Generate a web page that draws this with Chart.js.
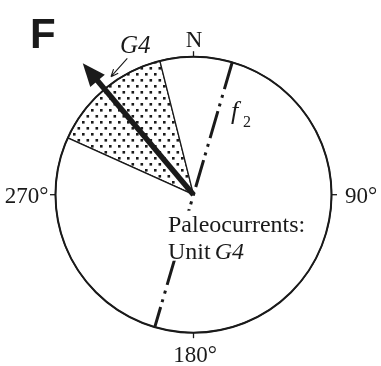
<!DOCTYPE html>
<html>
<head>
<meta charset="utf-8">
<script src="https://cdn.jsdelivr.net/npm/chart.js@4.4.1/dist/chart.umd.min.js"></script>
<style>
  html, body { margin: 0; padding: 0; background: #fff; }
  #wrap { position: relative; width: 381px; height: 366px; }
</style>
</head>
<body>
<div id="wrap"><canvas id="rose" width="381" height="366"></canvas></div>
<script>
// Compass labels around the rose (azimuth in degrees, clockwise from north)
const compassLabels = ['N', '90°', '180°', '270°'];
const compassAzimuths = [0, 90, 180, 270];
// Spread of paleocurrent directions measured in unit G4
const currentRange = [294.3, 345.9];
// Mean paleocurrent vector: azimuth and length relative to the circle radius
const meanAzimuth = 319.9;
const meanLength = 1.246;
// Strike of fault f2
const faultAzimuth = 16.3;

const INK = '#1a1a1a';
const SERIF = '"Liberation Serif", "DejaVu Serif", serif';

// Dotted fill for the paleocurrent sector
function makeStipple() {
  const c = document.createElement('canvas');
  c.width = 9; c.height = 12;
  const g = c.getContext('2d');
  g.fillStyle = '#fff';
  g.fillRect(0, 0, 9, 12);
  g.fillStyle = INK;
  g.fillRect(1, 1, 2.6, 2.6);
  g.fillRect(5.5, 7, 2.6, 2.6);
  return g.createPattern(c, 'repeat');
}

const sectorWidth = currentRange[1] - currentRange[0];

// Circle outline, compass ticks, fault trace, mean vector and annotations
const roseOverlay = {
  id: 'roseOverlay',
  afterDatasetsDraw(chart) {
    const ctx = chart.ctx;
    const arc = chart.getDatasetMeta(0).data[0];
    const cx = arc.x, cy = arc.y, R = arc.outerRadius;
    const rad = a => a * Math.PI / 180;
    const pt = (az, r) => [cx + r * Math.sin(rad(az)), cy - r * Math.cos(rad(az))];

    ctx.save();
    ctx.strokeStyle = INK;
    ctx.fillStyle = INK;

    // outer circle
    ctx.lineWidth = 2;
    ctx.beginPath();
    ctx.arc(cx, cy, R, 0, Math.PI * 2);
    ctx.stroke();

    // compass ticks
    ctx.lineWidth = 1.3;
    compassAzimuths.forEach(az => {
      const [ax, ay] = pt(az, R);
      const [bx, by] = pt(az, R + 5.5);
      ctx.beginPath();
      ctx.moveTo(ax, ay);
      ctx.lineTo(bx, by);
      ctx.stroke();
    });

    // compass labels
    ctx.font = '23px ' + SERIF;
    ctx.textBaseline = 'alphabetic';
    const labelPos = [
      { x: cx + 0.5, y: cy - R - 9.7, align: 'center' },
      { x: cx + R + 13.5, y: cy + 8.5, align: 'left' },
      { x: cx + 1.5, y: cy + R + 29.3, align: 'center' },
      { x: cx - R - 7, y: cy + 8.5, align: 'right' }
    ];
    compassLabels.forEach((t, i) => {
      ctx.textAlign = labelPos[i].align;
      ctx.fillText(t, labelPos[i].x, labelPos[i].y);
    });

    // fault f2 (dash-dot-dot trace through the centre)
    const [fx1, fy1] = pt(faultAzimuth, R);
    const [fx2, fy2] = pt(faultAzimuth + 180, R);
    ctx.lineWidth = 3;
    ctx.lineCap = 'butt';
    ctx.setLineDash([28, 6, 3, 6, 3, 5]);
    ctx.beginPath();
    ctx.moveTo(fx1, fy1);
    ctx.lineTo(fx2, fy2);
    ctx.stroke();
    ctx.setLineDash([]);

    // f2 label
    ctx.textAlign = 'left';
    ctx.font = 'italic 26px ' + SERIF;
    ctx.fillText('f', cx + 37.5, cy - 75.5);
    ctx.font = '16px ' + SERIF;
    ctx.fillText('2', cx + 49.5, cy - 67.5);

    // mean paleocurrent arrow
    const headLen = 23, headHalf = 9.5;
    const tipR = meanLength * R;
    const [tx, ty] = pt(meanAzimuth, tipR);
    const [bx, by] = pt(meanAzimuth, tipR - headLen);
    const [sx, sy] = pt(meanAzimuth, tipR - headLen + 2);
    const px = Math.cos(rad(meanAzimuth)), py = Math.sin(rad(meanAzimuth));
    ctx.lineWidth = 5.5;
    ctx.beginPath();
    ctx.moveTo(cx, cy);
    ctx.lineTo(sx, sy);
    ctx.stroke();
    ctx.beginPath();
    ctx.moveTo(tx, ty);
    ctx.lineTo(bx + px * headHalf, by + py * headHalf);
    ctx.lineTo(bx - px * headHalf, by - py * headHalf);
    ctx.closePath();
    ctx.fill();

    // G4 label with leader arrow
    ctx.font = 'italic 25px ' + SERIF;
    ctx.fillText('G4', cx - 73.5, cy - 141.5);
    const l0 = [cx - 66.2, cy - 136.4], l1 = [cx - 82.5, cy - 118];
    ctx.lineWidth = 1.1;
    ctx.beginPath();
    ctx.moveTo(l0[0], l0[1]);
    ctx.lineTo(l1[0], l1[1]);
    const ang = Math.atan2(l1[1] - l0[1], l1[0] - l0[0]);
    [0.4, -0.4].forEach(d => {
      ctx.moveTo(l1[0], l1[1]);
      ctx.lineTo(l1[0] - 8 * Math.cos(ang + d), l1[1] - 8 * Math.sin(ang + d));
    });
    ctx.stroke();

    // caption inside the circle
    const capX = cx - 25.5;
    ctx.fillStyle = '#fff';
    ctx.fillRect(capX - 2, cy + 16, 142, 50);
    ctx.fillStyle = INK;
    ctx.font = '24px ' + SERIF;
    ctx.fillText('Paleocurrents:', capX, cy + 37.3);
    ctx.fillText('Unit ', capX, cy + 63.8);
    const w = ctx.measureText('Unit ').width;
    ctx.font = 'italic 24px ' + SERIF;
    ctx.fillText('G4', capX + w - 2, cy + 63.8);

    // panel letter
    ctx.font = 'bold 42px "Liberation Sans", Arial, sans-serif';
    ctx.fillText('F', 30, 48.3);

    ctx.restore();
  }
};

new Chart(document.getElementById('rose').getContext('2d'), {
  type: 'pie',
  data: {
    labels: ['Unit G4', ''],
    datasets: [{
      data: [sectorWidth, 360 - sectorWidth],
      backgroundColor: [makeStipple(), '#fff'],
      borderColor: INK,
      borderWidth: 1.3,
      hoverBorderWidth: 1.3,
      hoverOffset: 0
    }]
  },
  options: {
    responsive: false,
    animation: false,
    events: [],
    rotation: currentRange[0],
    layout: { padding: { left: 54.85, right: 48.85, top: 56.05, bottom: 32.65 } },
    plugins: { legend: { display: false }, tooltip: { enabled: false } }
  },
  plugins: [roseOverlay]
});
</script>
</body>
</html>
